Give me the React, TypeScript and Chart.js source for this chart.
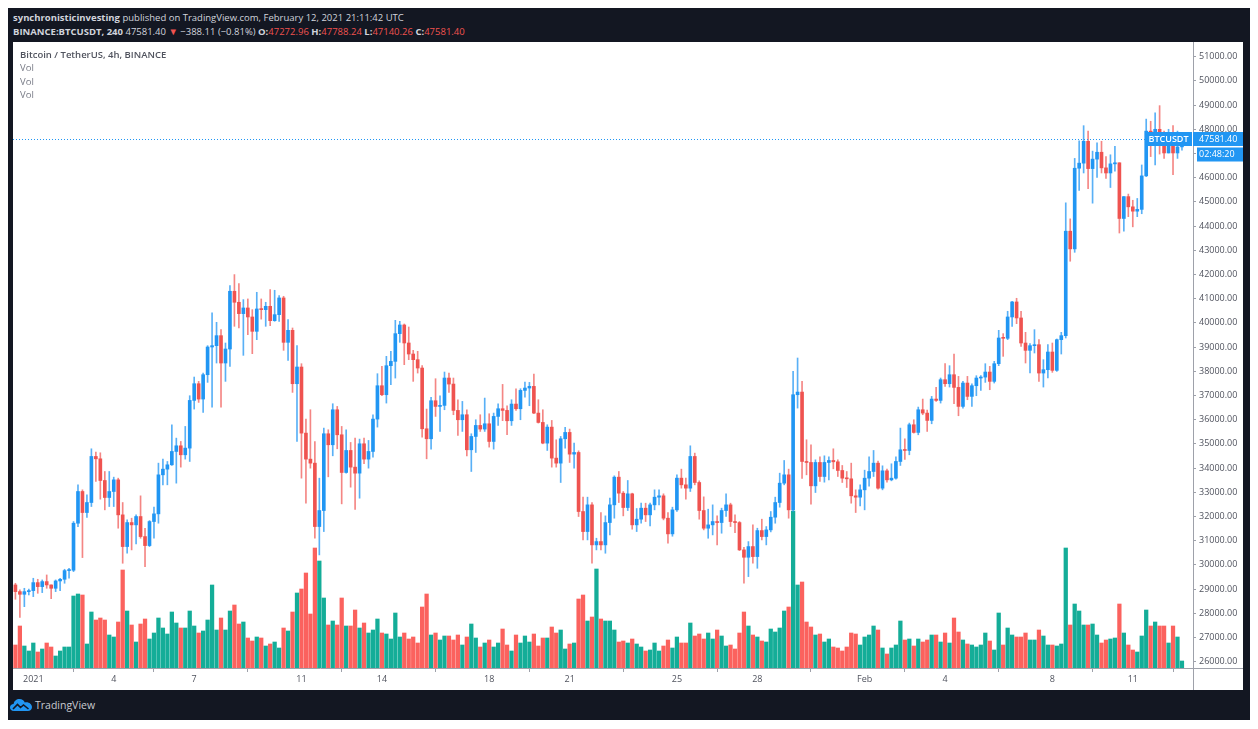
import React, { useEffect, useRef } from "react";
import { Chart, registerables } from "chart.js";

Chart.register(...registerables);

// BINANCE:BTCUSDT, 4h candles. Index = number of 4h periods since 2021-01-01 00:00 UTC.
const START_INDEX = -4; // first candle 2020-12-31 08:00
const FIRST_OPEN = 29172;

const closes = [
  28896, 28786, 28896, 28937, 29268, 29103, 29310, 29172, 29034, 29337,
  29406, 29765, 29780, 31723, 33033, 32164, 32578, 34481, 34384, 33488,
  32785, 33033, 33515, 32068, 30758, 31750, 31654, 31999, 31171, 30799,
  31792, 32109, 33722, 33957, 34136, 34688, 34922, 34550, 34826, 36797,
  37487, 36853, 37859, 39004, 39059, 39473, 38342, 38921, 41307, 40852,
  40383, 40617, 40245, 39652, 40576, 40548, 40686, 40093, 40341, 41031,
  39197, 39693, 37487, 38177, 35446, 34371, 34205, 31585, 32247, 35419,
  34964, 36411, 35377, 33819, 34729, 34040, 33791, 35005, 34371, 34688,
  36025, 37404, 37032, 38232, 38411, 39556, 39914, 39170, 38714, 38480,
  38135, 35625, 35212, 36784, 36549, 36591, 37722, 37473, 36384, 35998,
  36205, 34757, 35308, 35763, 35612, 35832, 35101, 36136, 36453, 36384,
  35956, 36646, 36453, 37211, 37308, 37377, 36273, 35887, 35032, 35694,
  34412, 34205, 35212, 35474, 34577, 34646, 32206, 31378, 32481, 30827,
  30964, 30827, 31750, 32481, 33626, 32964, 32371, 32937, 31654, 31889,
  32344, 32068, 32481, 32798, 32854, 31930, 31282, 32275, 33585, 33309,
  33171, 34481, 33405, 32247, 31516, 31654, 31792, 31750, 32247, 32481,
  31792, 31750, 30620, 30316, 30758, 30344, 31419, 31171, 31447, 31971,
  32578, 33378, 33722, 32275, 37032, 37142, 34274, 34233, 33267, 34233,
  33653, 34233, 34315, 34260, 33902, 33584, 33557, 32854, 32798, 33102,
  33584, 33860, 34205, 33171, 33888, 33515, 33584, 34274, 34757, 34729,
  35791, 35474, 36411, 36273, 35970, 36853, 36798, 37653, 37487, 37859,
  37335, 36549, 37515, 36963, 37404, 37722, 37760, 37970, 37584, 38314,
  39376, 39363, 40245, 40866, 40204, 39169, 38866, 39059, 39100, 37928,
  38066, 38797, 38039, 39307, 39473, 43789, 43058, 46391, 46601, 47504,
  46376, 46767, 47052, 46406, 46195, 46571, 46616, 44315, 45218, 44796,
  44616, 44691, 46075, 47925, 47624, 48000, 47398, 47022, 47549, 47022,
  47272.96, 47581.4,
];

const highs = [
  29241, 28965, 29034, 29000, 29448, 29406, 29379, 29585, 29172, 29379,
  29448, 29820, 29861, 31792, 33309, 33102, 32895, 34798, 34660, 34633,
  33860, 33860, 33626, 33584, 32578, 31861, 31930, 32068, 32854, 31516,
  31833, 32385, 34205, 34371, 34274, 35791, 35239, 35102, 35722, 36991,
  37763, 37584, 37928, 39059, 40411, 40024, 39721, 39169, 41541, 41996,
  41624, 40962, 40990, 40548, 41265, 40990, 40852, 41376, 41348, 41128,
  41100, 40134, 39790, 39059, 38314, 36025, 36412, 35101, 33584, 35653,
  35584, 36660, 36549, 35722, 35584, 35060, 35239, 35198, 35239, 35143,
  36205, 37901, 38204, 38618, 38825, 40107, 40065, 39955, 39831, 38866,
  38825, 38232, 36439, 36922, 37694, 36991, 37970, 37928, 37722, 36825,
  36756, 36411, 35419, 35998, 36205, 36894, 36246, 36274, 36660, 37459,
  36577, 36825, 37280, 37280, 37556, 37542, 37887, 36825, 36411, 35791,
  35970, 35170, 35308, 35680, 35612, 35032, 34715, 32799, 32799, 32578,
  31102, 32164, 32026, 32757, 33681, 33860, 33033, 33488, 32964, 32330,
  32550, 32550, 32550, 33102, 33102, 32937, 32164, 32385, 33722, 33957,
  33585, 34922, 34619, 33474, 32812, 32302, 32481, 32026, 32344, 32937,
  32550, 32068, 31792, 30730, 30964, 31654, 31516, 31889, 31585, 32206,
  32799, 33791, 34315, 33957, 38000, 38549, 37584, 35170, 34964, 34343,
  34467, 34508, 34467, 34798, 34343, 34109, 33860, 34205, 33102, 33309,
  33915, 34467, 34729, 34288, 34095, 33957, 34178, 34467, 35653, 35212,
  35860, 35998, 36522, 36853, 36398, 36963, 37335, 37722, 38314, 38232,
  38714, 37790, 37584, 37790, 37487, 37818, 37818, 38314, 38204, 38411,
  39693, 39556, 40480, 40894, 41017, 40480, 39611, 39142, 39721, 39307,
  38480, 39100, 39169, 39335, 39611, 44961, 44299, 46797, 47519, 48150,
  47925, 47098, 47444, 47504, 46872, 46947, 47293, 46616, 45218, 45323,
  45067, 45142, 46526, 48421, 48331, 48677, 48978, 47925, 48000, 48150,
  47925, 47788.24,
];

const lows = [
  28579, 27834, 28275, 28758, 28689, 28827, 28855, 29034, 28606, 28896,
  28937, 29241, 29448, 29723, 31585, 30302, 31957, 32412, 33447, 32716,
  32275, 32412, 32412, 31516, 30068, 30482, 30620, 30868, 31102, 29930,
  30758, 31102, 31723, 33309, 33309, 34109, 33378, 34040, 34371, 34274,
  36439, 36715, 36301, 37542, 36522, 38342, 36522, 37584, 38204, 39859,
  39790, 38659, 39514, 38728, 39307, 40155, 39859, 39886, 40065, 40065,
  38866, 38452, 37128, 35101, 33584, 32550, 33998, 31102, 30413, 31378,
  33640, 34508, 34798, 32522, 33791, 33212, 32288, 32757, 34178, 33998,
  34453, 35694, 36991, 36687, 37445, 37721, 39197, 38273, 38480, 37584,
  37928, 35281, 34384, 34784, 36136, 35515, 36411, 37128, 36205, 35350,
  35515, 34508, 33860, 34646, 35515, 35515, 34867, 34784, 35763, 35960,
  35377, 35763, 36384, 35998, 36935, 36577, 36246, 35860, 35005, 34729,
  34040, 34040, 33405, 34826, 34233, 33998, 31999, 31033, 31033, 30068,
  30620, 30620, 30482, 31240, 31930, 32578, 32026, 32247, 31475, 31378,
  31723, 31792, 31613, 32275, 32481, 31861, 30896, 31185, 32206, 33171,
  32716, 33033, 33309, 31889, 31447, 31102, 31240, 30827, 31309, 31999,
  31585, 31337, 30592, 29241, 29516, 30068, 29861, 31033, 30827, 31364,
  31723, 32385, 33309, 31930, 32206, 36480, 33571, 33722, 32509, 32991,
  33447, 33419, 33515, 33971, 33653, 33405, 33198, 32550, 32164, 32440,
  32275, 33254, 33653, 33129, 33102, 33419, 33474, 33543, 34109, 34357,
  34550, 35446, 35377, 36205, 35515, 35832, 36756, 36687, 37377, 37349,
  36660, 36163, 36480, 36825, 36550, 36991, 37211, 37542, 37239, 37515,
  38232, 38618, 39308, 39859, 39969, 39031, 38342, 37928, 38756, 37584,
  37349, 37722, 37956, 37997, 38714, 39376, 42548, 42917, 45473, 46195,
  45548, 44947, 46015, 46195, 45970, 45594, 46270, 43714, 43789, 44390,
  43969, 44390, 44511, 46045, 46872, 46526, 46977, 46797, 47022, 46120,
  46797, 47140.26,
];

const volumes = [
  23, 42, 22, 17, 25, 16, 19, 25, 21, 12,
  17, 21, 21, 72, 74, 73, 24, 56, 48, 50,
  48, 33, 31, 46, 98, 57, 43, 26, 44, 49,
  29, 35, 50, 40, 34, 56, 45, 40, 40, 57,
  42, 35, 37, 48, 83, 38, 50, 38, 57, 63,
  44, 46, 30, 27, 31, 30, 22, 24, 26, 20,
  40, 37, 56, 75, 79, 95, 54, 120, 107, 70,
  43, 47, 43, 70, 42, 42, 58, 40, 45, 35,
  38, 49, 35, 34, 29, 55, 31, 35, 29, 31,
  25, 61, 74, 33, 35, 28, 32, 32, 28, 33,
  23, 31, 44, 30, 21, 25, 28, 21, 25, 39,
  23, 17, 33, 25, 32, 26, 34, 22, 30, 30,
  41, 35, 38, 19, 24, 25, 69, 73, 47, 51,
  99, 49, 47, 47, 38, 26, 27, 25, 29, 24,
  21, 17, 18, 25, 17, 22, 28, 20, 31, 25,
  25, 45, 32, 34, 29, 35, 29, 38, 32, 22,
  23, 19, 35, 56, 42, 33, 31, 27, 26, 39,
  36, 40, 57, 61, 157, 83, 86, 46, 41, 33,
  34, 26, 29, 21, 20, 17, 21, 35, 34, 23,
  31, 33, 42, 38, 20, 14, 20, 23, 47, 28,
  29, 22, 29, 26, 28, 33, 33, 26, 35, 25,
  50, 36, 28, 24, 23, 21, 23, 35, 27, 18,
  55, 23, 40, 33, 31, 31, 35, 28, 28, 38,
  32, 23, 23, 22, 24, 120, 43, 64, 57, 43,
  43, 44, 33, 25, 28, 29, 30, 64, 35, 23,
  18, 16, 32, 58, 42, 46, 42, 42, 25, 42,
  31, 7,
];

const priceTicks = [
  26000, 27000, 28000, 29000, 30000, 31000, 32000, 33000, 34000,
  35000, 36000, 37000, 38000, 39000, 40000, 41000, 42000, 43000,
  44000, 45000, 46000, 47000, 48000, 49000, 50000, 51000,
];
const dateTickLabels = ["2021", "4", "7", "11", "14", "18", "21", "25", "28", "Feb", "4", "8", "11"];
const dateTickDays = [0, 3, 6, 10, 13, 17, 20, 24, 27, 31, 34, 38, 41];

const LAST_OPEN = 47272.96;
const LAST_HIGH = 47788.24;
const LAST_LOW = 47140.26;
const LAST_CLOSE = 47581.4;
const CHANGE = "−388.11 (−0.81%)";
const COUNTDOWN = "02:48:20";

const FONT = '"Open Sans", "Noto Sans", sans-serif';
const UP = "#2196f3";
const DOWN = "#ef5350";
const WICK_UP = "rgba(33,150,243,0.75)";
const WICK_DOWN = "rgba(239,83,80,0.7)";
const VOL_UP = "#14ad98";
const VOL_DOWN = "#fb625e";
const AXIS_LINE = "#9ea1aa";
const TEXT = "#50535e";

const overlayPlugin = {
  id: "overlay",
  afterDraw(chart: any) {
    const { ctx, chartArea, scales } = chart;
    const w = chart.width;
    const h = chart.height;
    ctx.save();
    ctx.lineWidth = 1;
    ctx.strokeStyle = AXIS_LINE;
    const ax = Math.round(chartArea.right) + 0.5;
    ctx.beginPath();
    ctx.moveTo(ax, 0);
    ctx.lineTo(ax, h);
    ctx.stroke();
    const ay = Math.round(chartArea.bottom) + 0.5;
    ctx.beginPath();
    ctx.moveTo(0, ay);
    ctx.lineTo(w, ay);
    ctx.stroke();

    const py = Math.round(scales.y.getPixelForValue(LAST_CLOSE)) + 0.5;
    const tagW = 47;
    const tagLeft = chartArea.right - tagW - 1;
    ctx.strokeStyle = UP;
    ctx.setLineDash([1, 2]);
    ctx.beginPath();
    ctx.moveTo(chartArea.left, py);
    ctx.lineTo(tagLeft, py);
    ctx.stroke();
    ctx.setLineDash([]);

    ctx.fillStyle = UP;
    ctx.fillRect(tagLeft, py - 7.5, tagW, 14);
    ctx.fillRect(chartArea.right, py - 7.5, w - chartArea.right, 14);
    ctx.fillRect(chartArea.right + 4, py + 8, w - chartArea.right - 4, 14);

    ctx.fillStyle = "#ffffff";
    ctx.font = `600 9px ${FONT}`;
    ctx.textBaseline = "middle";
    ctx.textAlign = "center";
    ctx.fillText("BTCUSDT", tagLeft + tagW / 2, py);
    ctx.textAlign = "left";
    ctx.font = `9px ${FONT}`;
    ctx.fillText(LAST_CLOSE.toFixed(2), chartArea.right + 6, py);
    ctx.fillText(COUNTDOWN, chartArea.right + 6, py + 15);
    ctx.restore();
  },
};

export default function App() {
  const ref = useRef<HTMLCanvasElement>(null);

  useEffect(() => {
    const opens = closes.map((c, k) => (k === 0 ? FIRST_OPEN : closes[k - 1]));
    const xs = closes.map((_, k) => START_INDEX + k);
    const up = closes.map((c, k) => c >= opens[k]);

    const chart = new Chart(ref.current as HTMLCanvasElement, {
      type: "bar",
      data: {
        datasets: [
          {
            label: "Vol",
            data: xs.map((x, k) => ({ x, y: volumes[k] })),
            yAxisID: "yVol",
            backgroundColor: up.map((u) => (u ? VOL_UP : VOL_DOWN)),
            barThickness: 3.6,
            grouped: false,
            order: 3,
          } as any,
          {
            label: "wick",
            data: xs.map((x, k) => ({ x, y: [lows[k], highs[k]] })),
            yAxisID: "y",
            backgroundColor: up.map((u) => (u ? WICK_UP : WICK_DOWN)),
            barThickness: 1,
            grouped: false,
            order: 2,
          } as any,
          {
            label: "body",
            data: xs.map((x, k) => ({ x, y: [opens[k], closes[k]] })),
            yAxisID: "y",
            backgroundColor: up.map((u) => (u ? UP : DOWN)),
            barThickness: 3,
            minBarLength: 1,
            grouped: false,
            order: 1,
          } as any,
        ],
      },
      options: {
        animation: false,
        responsive: true,
        maintainAspectRatio: false,
        events: [],
        layout: { padding: 0 },
        plugins: { legend: { display: false }, tooltip: { enabled: false } },
        scales: {
          x: {
            type: "linear",
            min: -4.54,
            max: 259.47,
            offset: false,
            grid: { drawOnChartArea: false, drawTicks: true, tickLength: 4, color: AXIS_LINE },
            border: { display: false },
            ticks: {
              autoSkip: false,
              maxRotation: 0,
              padding: 2,
              color: TEXT,
              font: { family: FONT, size: 9 },
              callback: (v: any) => {
                const idx = dateTickDays.findIndex((d) => d * 6 === Number(v));
                return idx >= 0 ? dateTickLabels[idx] : "";
              },
            },
            afterBuildTicks: (s: any) => {
              s.ticks = dateTickDays.map((d) => ({ value: d * 6 }));
            },
            afterFit: (s: any) => {
              s.height = 22;
              s.paddingLeft = 0;
              s.paddingRight = 0;
            },
          },
          y: {
            position: "right",
            min: 25740,
            max: 51607,
            grid: { drawOnChartArea: false, drawTicks: true, tickLength: 3, color: AXIS_LINE },
            border: { display: false },
            ticks: {
              padding: 3,
              color: TEXT,
              font: { family: FONT, size: 9 },
              callback: (v: any) => Number(v).toFixed(2),
            },
            afterBuildTicks: (s: any) => {
              s.ticks = priceTicks.map((v) => ({ value: v }));
            },
            afterFit: (s: any) => {
              s.width = 50;
              s.paddingTop = 0;
              s.paddingBottom = 0;
            },
          },
          yVol: { display: false, min: 0, max: 626 },
        },
      } as any,
      plugins: [overlayPlugin],
    });
    return () => chart.destroy();
  }, []);

  const red = { color: "#f0524f" };
  return (
    <div
      style={{
        position: "relative",
        width: 1242,
        height: 712,
        background: "#131722",
        fontFamily: FONT,
        color: "#d1d4dc",
      }}
    >
      <div style={{ position: "absolute", left: 5, top: 3, fontSize: 9.5, lineHeight: "13px", whiteSpace: "nowrap" }}>
        <b>synchronisticinvesting</b> published on TradingView.com, February 12, 2021 21:11:42 UTC
      </div>
      <div style={{ position: "absolute", left: 5, top: 17, fontSize: 9.5, lineHeight: "13px", whiteSpace: "nowrap" }}>
        <b>BINANCE:BTCUSDT, 240</b> {LAST_CLOSE.toFixed(2)} <span style={red}>▼</span> {CHANGE}{" "}
        <b>O:</b><span style={red}>{LAST_OPEN.toFixed(2)}</span> <b>H:</b><span style={red}>{LAST_HIGH.toFixed(2)}</span>{" "}
        <b>L:</b><span style={red}>{LAST_LOW.toFixed(2)}</span> <b>C:</b><span style={red}>{LAST_CLOSE.toFixed(2)}</span>
      </div>
      <div style={{ position: "absolute", left: 5, top: 34, width: 1230, height: 648, background: "#ffffff" }}>
        <div style={{ position: "absolute", left: 0, top: 0, width: 1230, height: 648 }}>
          <canvas ref={ref} />
        </div>
        <div style={{ position: "absolute", left: 7, top: 6, fontSize: 9.5, lineHeight: "13.3px", color: "#787b86" }}>
          <div style={{ color: "#50535e", fontWeight: 600 }}>Bitcoin / TetherUS, 4h, BINANCE</div>
          <div>Vol</div>
          <div>Vol</div>
          <div>Vol</div>
        </div>
      </div>
      <div style={{ position: "absolute", left: 2, top: 688, height: 18, display: "flex", alignItems: "center" }}>
        <svg width="22" height="14" viewBox="0 0 22 14">
          <path d="M4 13 C1 13 0 11 0 9.5 C0 7.5 1.6 6 3.6 6 C4 3 6.5 1 9.5 1 C12 1 14 2.5 14.8 4.5 C15.3 4.3 15.8 4.2 16.4 4.2 C19.5 4.2 22 6.5 22 9 C22 11.5 20 13 18 13 Z" fill="#2196f3" />
          <path d="M3 11 L7.5 6.5 L10.5 9.5 L13.5 7 L18.5 11" stroke="#131722" strokeWidth="1.6" fill="none" />
        </svg>
        <span style={{ marginLeft: 3, fontSize: 10.5, color: "#c8cad0" }}>TradingView</span>
      </div>
    </div>
  );
}
